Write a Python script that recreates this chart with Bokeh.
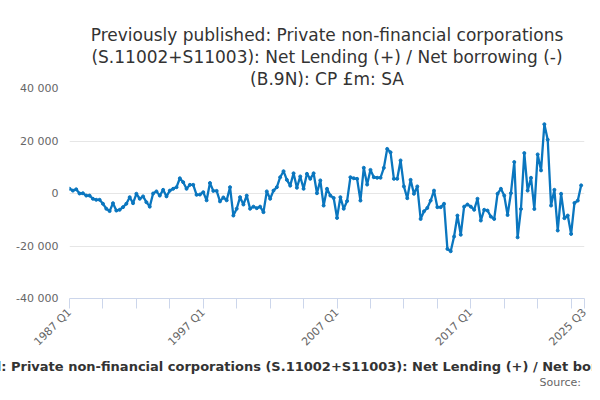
from bokeh.plotting import figure
from bokeh.models import Title, FixedTicker
from bokeh.embed import file_html
from bokeh.resources import INLINE

values_k = [
 1.8,1.1,1.6,0,0.1,-0.8,-0.8,-2,-2.4,-2.4,-3.9,-5.8,-6.7,-3.7,-6.5,-6.2,-5.2,-3.9,-1.4,-3.7,
 -0.1,-2,-1.1,-3.3,-5,0,0.8,-0.8,1.4,-1.1,1.1,1.8,2.4,5.8,4.3,1.8,3.3,3.3,-0.5,-0.4,
 0.5,-2.6,4,1,1,-3,-1.5,-2.6,2.4,
 -8.4,-5.8,-1.4,-4.2,-0.8,-5.8,-5,-5.6,-5,-7.1,0.8,-2,1.1,2.4,6.2,8.5,5.2,3,7.7,2.2,
 6.5,1.8,7.5,5.6,7.7,0.1,5,-4.6,1.8,-0.8,-1.7,-9.3,-1.4,-5.8,-2.9,6.2,5.8,5.6,-2.7,9.8,
 3.4,9,6.2,6,6,9.8,17,15.7,5.6,5.6,12.6,2.7,-1.8,
 5.2,-0.1,2.7,-9.7,-6.8,-5.5,-2.7,1.1,-5.2,-5.2,-3.9,-21.1,-22,-16.4,-8.4,-15.7,-5,-4.2,-5,-6.2,
 -2,-10.3,-6.2,-6.5,-8.8,-9.7,-0.1,1.8,-0.8,-8.2,0.1,12,-16.7,-5.9,15.4,1.1,6,-5.9,14.9,8.8,
 26.4,20.5,-4.6,1.4,-14.1,-0.1,-9.4,-8.4,-15.4,-3.6,-2.7,3.1]
values = [v * 1000 for v in values_k]
x = list(range(len(values)))
tick_pos = list(range(0, 151, 10)) + [154]
tick_labels = {0: "1987 Q1", 40: "1997 Q1", 80: "2007 Q1", 120: "2017 Q1", 154: "2025 Q3"}
y_ticks = [-40000, -20000, 0, 20000, 40000]
y_labels = {-40000: "-40 000", -20000: "-20 000", 0: "0", 20000: "20 000", 40000: "40 000"}

p = figure(output_backend="svg", toolbar_location=None,
           frame_width=515, frame_height=210,
           x_range=(0, 154), y_range=(-40000, 40000),
           min_border_left=69, min_border_right=8, min_border_top=88, min_border_bottom=40)
p.outline_line_color = None
p.background_fill_color = "white"
col = "#0a76bf"
p.line(x, values, line_color=col, line_width=2.3)
p.scatter(x, values, size=3, color=col)

p.xaxis.ticker = FixedTicker(ticks=tick_pos)
p.xaxis.major_label_overrides = {t: tick_labels.get(t, "") for t in tick_pos}
p.xaxis.major_label_orientation = 0.785
p.xaxis.axis_line_color = "#ccd6eb"
p.xaxis.major_tick_line_color = "#ccd6eb"
p.xaxis.major_tick_in = 0
p.xaxis.major_tick_out = 10
p.xaxis.major_label_standoff = 2
p.xaxis.minor_tick_line_color = None
p.xaxis.major_label_text_color = "#666666"
p.xaxis.major_label_text_font = "DejaVu Sans"
p.xaxis.major_label_text_font_size = "11px"
p.xgrid.grid_line_color = None

p.yaxis.ticker = FixedTicker(ticks=y_ticks)
p.yaxis.major_label_overrides = y_labels
p.yaxis.axis_line_color = None
p.yaxis.major_tick_line_color = None
p.yaxis.minor_tick_line_color = None
p.yaxis.major_label_text_color = "#666666"
p.yaxis.major_label_text_font = "DejaVu Sans"
p.yaxis.major_label_text_font_size = "11px"
p.ygrid.grid_line_color = "#e6e6e6"

for line in ["(B.9N): CP £m: SA",
             "(S.11002+S11003): Net Lending (+) / Net borrowing (-)",
             "Previously published: Private non-financial corporations"]:
    p.add_layout(Title(text=line, align="center", text_font="DejaVu Sans",
                       text_font_size="17px", text_font_style="normal",
                       text_color="#333333", standoff=0), "above")

p.add_layout(Title(text="Previously published: Private non-financial corporations (S.11002+S11003): Net Lending (+) / Net borrowing (-) (B.9N): CP £m: SA",
                   align="center", text_font="DejaVu Sans", text_font_size="13px",
                   text_font_style="bold", text_color="#333333", standoff=0), "below")
p.add_layout(Title(text="Source: ", align="right", text_font="DejaVu Sans",
                   text_font_size="11px", text_font_style="normal",
                   text_color="#666666", standoff=0), "below")

open("out.html", "w").write(file_html(p, INLINE))
